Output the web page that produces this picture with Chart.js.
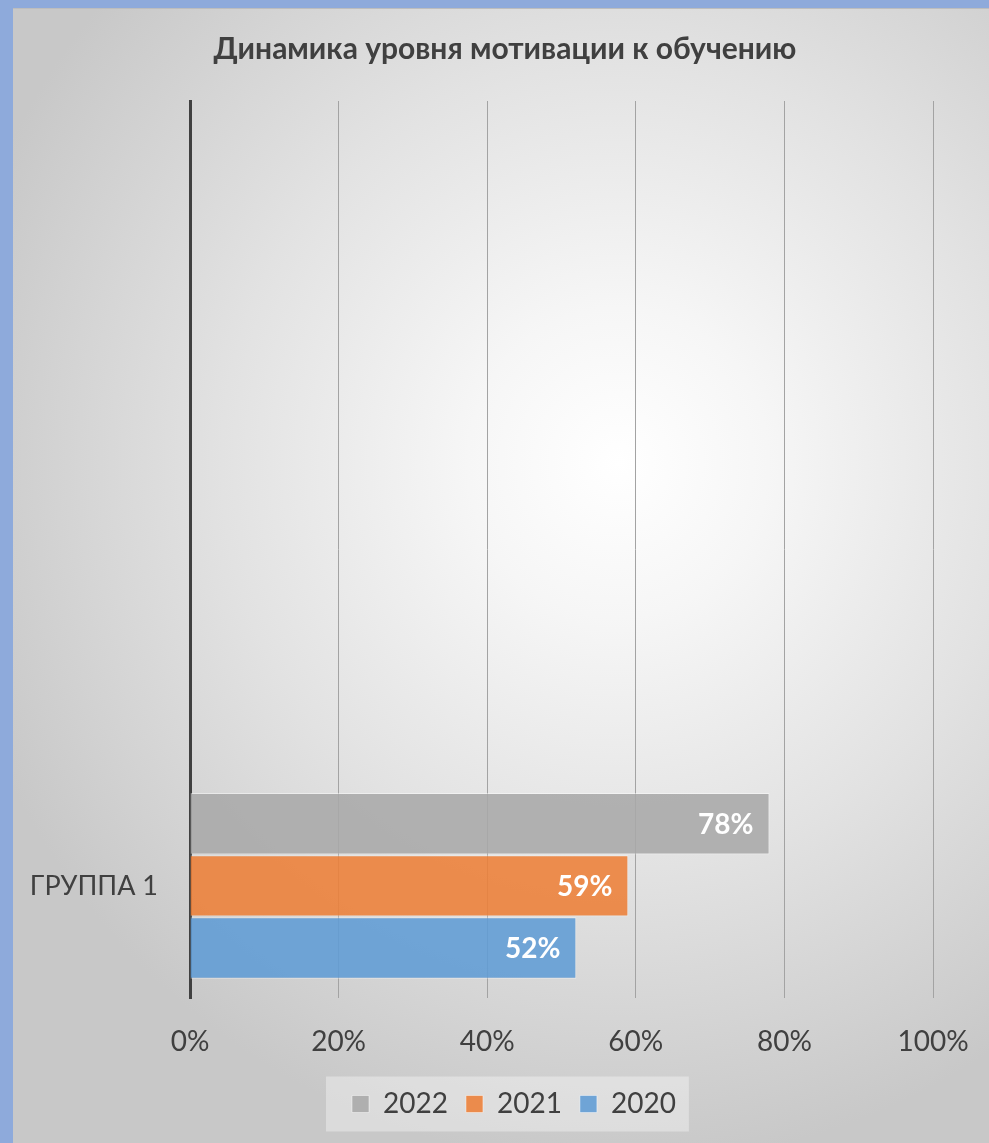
<!DOCTYPE html>
<html lang="ru">
<head>
<meta charset="utf-8">
<title>Динамика уровня мотивации к обучению</title>
<script src="https://cdn.jsdelivr.net/npm/chart.js@4"></script>
<style>
  html, body { margin: 0; padding: 0; }
  body { width: 989px; height: 1143px; background: #8eaadb; position: relative; overflow: hidden; }
  #box {
    position: absolute; left: 13px; top: 8px; width: 976px; height: 1135px;
    background: radial-gradient(ellipse 70% 62% at 62% 40%, #ffffff 0%, #f6f6f6 22%, #e2e2e2 58%, #c8c8c8 100%);
    border-top: 1px solid #bdbdbd;
    box-sizing: border-box;
  }
  canvas { display: block; }
</style>
</head>
<body>
<div id="box"><canvas id="chart" width="976" height="1134"></canvas></div>
<script>
const chartTitle = 'Динамика уровня мотивации к обучению';
const groups = ['', '', '', 'ГРУППА 1'];
const seriesNames = ['2022', '2021', '2020'];
const values2022 = [null, null, null, 78];
const values2021 = [null, null, null, 59];
const values2020 = [null, null, null, 52];
const tickValues = [0, 20, 40, 60, 80, 100];

const FONT = 'Lato, "Open Sans", sans-serif';
const TEXT = '#404040';
const LEGEND_X = 339; // where the first legend square starts (canvas px)

// title and legend sit a bit right of the padded centre, as in Excel
const shiftBoxes = {
  id: 'shiftBoxes',
  afterLayout(chart) {
    const t = chart.titleBlock;
    if (t) { t.left += 32; t.right += 32; }
    const lg = chart.legend;
    if (lg && lg.lineWidths) {
      const pad = lg.options.labels.padding;
      const startX = (lg.left + pad + lg.right - lg.lineWidths[0]) / 2;
      const shift = LEGEND_X - startX;
      lg.left += shift; lg.right += shift;
    }
  }
};

// light panel behind the legend
const legendBg = {
  id: 'legendBg',
  beforeDraw(chart) {
    const lg = chart.legend;
    if (!lg || !lg.lineWidths) return;
    const pad = lg.options.labels.padding;
    const size = lg.options.labels.font.size;
    const left = LEGEND_X - 26;
    const right = LEGEND_X + lg.lineWidths[0] - pad + 13;
    const cy = lg.top + pad + size / 2;
    const ctx = chart.ctx;
    ctx.save();
    ctx.fillStyle = 'rgba(255,255,255,0.35)';
    ctx.fillRect(left, cy - 27.5, right - left, 55);
    ctx.restore();
  }
};

// values written inside the bar ends
const barLabels = {
  id: 'barLabels',
  afterDatasetsDraw(chart) {
    const ctx = chart.ctx;
    ctx.save();
    ctx.font = 'bold 28px ' + FONT;
    ctx.fillStyle = '#ffffff';
    ctx.textAlign = 'right';
    ctx.textBaseline = 'middle';
    chart.data.datasets.forEach((ds, i) => {
      const meta = chart.getDatasetMeta(i);
      meta.data.forEach((bar, j) => {
        const v = ds.data[j];
        if (v == null) return;
        ctx.fillText(v + '%', bar.x - 16, bar.y + 1);
      });
    });
    ctx.restore();
  }
};

new Chart(document.getElementById('chart'), {
  type: 'bar',
  data: {
    labels: groups,
    datasets: [
      { label: seriesNames[0], data: values2022, backgroundColor: 'rgba(168,168,168,0.88)', borderColor: 'rgba(255,255,255,0.45)', borderWidth: 1 },
      { label: seriesNames[1], data: values2021, backgroundColor: 'rgba(237,128,56,0.88)', borderColor: 'rgba(255,255,255,0.45)', borderWidth: 1 },
      { label: seriesNames[2], data: values2020, backgroundColor: 'rgba(96,156,213,0.88)', borderColor: 'rgba(255,255,255,0.45)', borderWidth: 1 }
    ]
  },
  options: {
    indexAxis: 'y',
    responsive: false,
    animation: false,
    devicePixelRatio: 1,
    categoryPercentage: 0.83,
    barPercentage: 0.99,
    layout: { padding: { left: 0, right: 56, top: 0, bottom: 15 } },
    scales: {
      x: {
        min: 0,
        max: 100,
        afterBuildTicks: s => { s.ticks = tickValues.map(v => ({ value: v })); },
        afterFit: s => { s.height = 74; s.paddingLeft = 0; s.paddingRight = 0; },
        ticks: {
          callback: v => v + '%',
          color: TEXT,
          font: { family: FONT, size: 28 },
          padding: 27
        },
        grid: { color: '#a3a3a3', lineWidth: 1, drawTicks: false },
        border: { display: false }
      },
      y: {
        afterFit: s => { s.width = 177; },
        ticks: {
          color: TEXT,
          font: { family: FONT, size: 27 },
          padding: 32
        },
        grid: { display: false, drawTicks: false },
        border: { display: true, color: '#404040', width: 3 }
      }
    },
    plugins: {
      title: {
        display: true,
        text: chartTitle,
        color: TEXT,
        font: { family: FONT, size: 30, weight: 'bold' },
        padding: { top: 22, bottom: 34 }
      },
      legend: {
        position: 'bottom',
        labels: {
          color: TEXT,
          font: { family: FONT, size: 28 },
          boxWidth: 17,
          boxHeight: 17,
          padding: 18
        }
      },
      tooltip: { enabled: false }
    }
  },
  plugins: [shiftBoxes, legendBg, barLabels]
});
</script>
</body>
</html>
